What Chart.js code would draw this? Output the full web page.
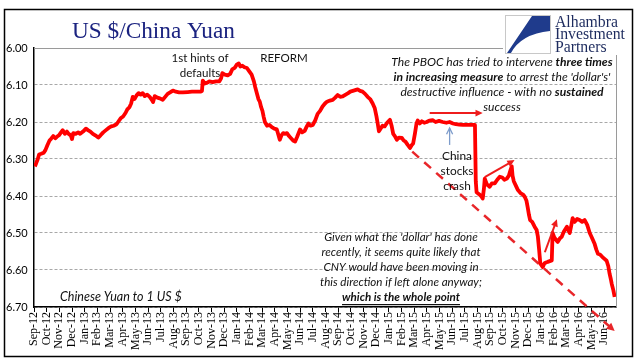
<!DOCTYPE html>
<html>
<head>
<meta charset="utf-8">
<script src="https://cdn.jsdelivr.net/npm/chart.js@4.4.0/dist/chart.umd.min.js"></script>
<style>
  html, body { margin: 0; padding: 0; background: #fff; }
</style>
</head>
<body>
<canvas id="myChart" width="641" height="361"></canvas>
<script>
var ctx = document.getElementById('myChart').getContext('2d');
//-----------------------------------------------
// data
//-----------------------------------------------
const monthLabels = [
  'Sep-12','Oct-12','Nov-12','Dec-12',
  'Jan-13','Feb-13','Mar-13','Apr-13','May-13','Jun-13','Jul-13','Aug-13','Sep-13','Oct-13','Nov-13','Dec-13',
  'Jan-14','Feb-14','Mar-14','Apr-14','May-14','Jun-14','Jul-14','Aug-14','Sep-14','Oct-14','Nov-14','Dec-14',
  'Jan-15','Feb-15','Mar-15','Apr-15','May-15','Jun-15','Jul-15','Aug-15','Sep-15','Oct-15','Nov-15','Dec-15',
  'Jan-16','Feb-16','Mar-16','Apr-16','May-16','Jun-16'
];
const yTicks = [6.00, 6.10, 6.20, 6.30, 6.40, 6.50, 6.60, 6.70];

const rateDates = [
  '2012-09-03','2012-09-06','2012-09-10','2012-09-13','2012-09-18','2012-09-24','2012-09-28',
  '2012-10-03','2012-10-08','2012-10-12','2012-10-17','2012-10-22','2012-10-26','2012-10-31',
  '2012-11-05','2012-11-09','2012-11-14','2012-11-19','2012-11-23','2012-11-28',
  '2012-12-01','2012-12-04','2012-12-10','2012-12-16','2012-12-21','2012-12-28',
  '2013-01-04','2013-01-09','2013-01-15','2013-01-21','2013-01-27',
  '2013-02-03','2013-02-08','2013-02-14','2013-02-20','2013-02-26',
  '2013-03-04','2013-03-10','2013-03-17','2013-03-22','2013-03-27',
  '2013-04-02','2013-04-08','2013-04-12','2013-04-17','2013-04-21','2013-04-25','2013-04-29',
  '2013-05-04','2013-05-09','2013-05-14','2013-05-19','2013-05-24','2013-05-30',
  '2013-06-05','2013-06-10','2013-06-13','2013-06-17','2013-06-23','2013-06-29',
  '2013-07-06','2013-07-12','2013-07-18','2013-07-24','2013-07-31',
  '2013-08-07','2013-08-15','2013-08-24','2013-09-05','2013-09-15','2013-09-25',
  '2013-10-05','2013-10-09','2013-10-11','2013-10-16','2013-10-21','2013-10-27',
  '2013-11-04','2013-11-12','2013-11-20','2013-11-24','2013-11-27',
  '2013-12-03','2013-12-10','2013-12-16','2013-12-21','2013-12-27',
  '2014-01-01','2014-01-06','2014-01-10','2014-01-15','2014-01-20','2014-01-26','2014-01-31',
  '2014-02-06','2014-02-11','2014-02-14','2014-02-18','2014-02-21','2014-02-24','2014-02-27',
  '2014-03-02','2014-03-05','2014-03-08','2014-03-13','2014-03-19','2014-03-25','2014-03-31',
  '2014-04-06','2014-04-10','2014-04-13','2014-04-17','2014-04-21','2014-04-26','2014-04-30',
  '2014-05-05','2014-05-10','2014-05-15','2014-05-20','2014-05-25',
  '2014-06-01','2014-06-06','2014-06-12','2014-06-17','2014-06-21','2014-06-26',
  '2014-07-01','2014-07-07','2014-07-13','2014-07-19','2014-07-25','2014-07-31',
  '2014-08-05','2014-08-12','2014-08-19','2014-08-25','2014-08-31',
  '2014-09-06','2014-09-12','2014-09-19','2014-09-25','2014-09-30',
  '2014-10-06','2014-10-12','2014-10-18','2014-10-24','2014-10-30',
  '2014-11-05','2014-11-11','2014-11-17','2014-11-23','2014-11-28',
  '2014-12-02','2014-12-05','2014-12-08','2014-12-12','2014-12-17','2014-12-22','2014-12-28',
  '2015-01-04','2015-01-08','2015-01-12','2015-01-16','2015-01-21','2015-01-26',
  '2015-02-02','2015-02-06','2015-02-10','2015-02-15','2015-02-20','2015-02-24','2015-02-27',
  '2015-03-03','2015-03-07','2015-03-10','2015-03-15','2015-03-20','2015-03-26',
  '2015-04-01','2015-04-07','2015-04-15','2015-04-22','2015-04-30',
  '2015-05-09','2015-05-18','2015-05-26','2015-06-03','2015-06-10','2015-06-18','2015-06-27',
  '2015-07-06','2015-07-15','2015-07-26','2015-07-28','2015-07-30',
  '2015-08-05','2015-08-10','2015-08-14','2015-08-17','2015-08-19','2015-08-24','2015-08-31',
  '2015-09-05','2015-09-12','2015-09-18','2015-09-24','2015-09-30',
  '2015-10-05','2015-10-11','2015-10-16','2015-10-20','2015-10-23','2015-10-25','2015-10-28',
  '2015-11-02','2015-11-07','2015-11-13','2015-11-19','2015-11-23','2015-11-27','2015-11-30',
  '2015-12-03','2015-12-06','2015-12-11','2015-12-17','2015-12-22','2015-12-25','2015-12-28','2015-12-31',
  '2016-01-06','2016-01-10','2016-01-14','2016-01-18','2016-01-23','2016-01-28','2016-01-30',
  '2016-02-03','2016-02-08','2016-02-11','2016-02-16','2016-02-20','2016-02-25',
  '2016-03-03','2016-03-07','2016-03-10','2016-03-14','2016-03-17','2016-03-22','2016-03-28',
  '2016-04-03','2016-04-09','2016-04-15','2016-04-21','2016-04-27',
  '2016-05-02','2016-05-09','2016-05-13','2016-05-17','2016-05-22','2016-05-28',
  '2016-06-02','2016-06-07','2016-06-11','2016-06-14','2016-06-17','2016-06-19','2016-06-23','2016-06-26'
];
const rateValues = [
  6.320,6.312,6.300,6.288,6.286,6.283,6.276,
  6.262,6.250,6.245,6.238,6.244,6.240,6.236,
  6.228,6.222,6.232,6.226,6.232,6.236,
  6.246,6.230,6.232,6.228,6.232,6.226,
  6.218,6.222,6.226,6.232,6.236,
  6.242,6.236,6.228,6.222,6.216,
  6.212,6.210,6.206,6.198,6.190,
  6.185,6.175,6.166,6.160,6.150,6.132,6.138,
  6.128,6.122,6.126,6.122,6.130,6.126,
  6.132,6.140,6.146,6.130,6.134,6.136,
  6.140,6.132,6.124,6.120,6.115,
  6.118,6.120,6.120,6.119,6.118,6.118,
  6.118,6.116,6.088,6.096,6.094,6.090,
  6.092,6.090,6.090,6.082,6.068,
  6.072,6.074,6.070,6.058,6.054,
  6.045,6.042,6.050,6.048,6.052,6.054,6.062,
  6.072,6.090,6.106,6.124,6.138,6.145,6.160,
  6.170,6.186,6.200,6.210,6.208,6.214,6.218,
  6.220,6.236,6.248,6.236,6.230,6.232,6.230,
  6.238,6.244,6.250,6.253,6.240,
  6.220,6.228,6.224,6.212,6.204,6.210,
  6.208,6.196,6.178,6.170,6.158,6.150,
  6.145,6.142,6.140,6.134,6.127,
  6.132,6.131,6.126,6.122,6.118,
  6.116,6.114,6.112,6.116,6.118,
  6.124,6.132,6.138,6.150,6.163,
  6.185,6.204,6.225,6.218,6.210,6.212,6.202,
  6.194,6.210,6.232,6.238,6.248,6.242,
  6.243,6.250,6.253,6.262,6.270,6.262,6.258,
  6.232,6.204,6.196,6.204,6.198,6.202,
  6.200,6.196,6.195,6.200,6.197,
  6.200,6.202,6.200,6.204,6.206,6.207,6.208,
  6.208,6.208,6.208,6.360,6.390,
  6.395,6.400,6.407,6.380,6.353,6.368,6.375,
  6.366,6.366,6.356,6.348,6.350,
  6.356,6.353,6.345,6.330,6.320,6.345,6.360,
  6.372,6.384,6.392,6.396,6.402,6.412,6.430,
  6.450,6.465,6.470,6.483,6.492,6.510,6.545,6.583,
  6.592,6.582,6.580,6.578,6.576,6.574,6.500,
  6.512,6.520,6.524,6.514,6.510,6.496,
  6.483,6.494,6.500,6.478,6.460,6.470,6.462,
  6.465,6.470,6.465,6.478,6.500,
  6.512,6.530,6.545,6.556,6.558,6.565,
  6.570,6.575,6.590,6.610,6.625,6.637,6.655,6.673
];

// dashed "where it would have gone" line
const trendDates = ['2015-02-25', '2016-06-19'];
const trendValues = [6.28, 6.758];

// little arrows drawn on the plot, in date / value terms
const arrows = [
  { from: ['2015-04-08', 6.176], to: ['2015-08-14', 6.176], color: '#ee1c1c', width: 2 },
  { from: ['2015-08-19', 6.349], to: ['2015-10-30', 6.303], color: '#ee1c1c', width: 2 },
  { from: ['2016-01-11', 6.552], to: ['2016-02-09', 6.463], color: '#ee1c1c', width: 2 },
  { from: ['2015-05-26', 6.262], to: ['2015-05-26', 6.216], color: '#7d9ccb', width: 1.3, open: true }
];

//-----------------------------------------------
function monthPos(s) {
  var p = s.split('-');
  var y = +p[0], m = +p[1], d = +p[2];
  var dim = new Date(y, m, 0).getDate();
  return (y - 2012) * 12 + (m - 9) + (d - 1) / dim;
}

function drawArrow(c, x1, y1, x2, y2, color, w, head, open) {
  var ang = Math.atan2(y2 - y1, x2 - x1);
  c.save();
  c.strokeStyle = color; c.fillStyle = color; c.lineWidth = w;
  c.beginPath();
  c.moveTo(x1, y1);
  if (open) c.lineTo(x2, y2);
  else c.lineTo(x2 - Math.cos(ang) * head * 0.7, y2 - Math.sin(ang) * head * 0.7);
  c.stroke();
  c.beginPath();
  c.moveTo(x2 - head * Math.cos(ang - 0.45), y2 - head * Math.sin(ang - 0.45));
  c.lineTo(x2, y2);
  c.lineTo(x2 - head * Math.cos(ang + 0.45), y2 - head * Math.sin(ang + 0.45));
  if (open) { c.stroke(); } else { c.closePath(); c.fill(); }
  c.restore();
}

// one centred line made of plain / bold pieces
function richLine(c, parts, cx, y, size, italic, family) {
  var st = italic ? 'italic ' : '';
  var total = 0;
  parts.forEach(function(p) {
    c.font = st + (p[1] ? 'bold ' : '') + size + 'px ' + family;
    total += c.measureText(p[0]).width;
  });
  var x = cx - total / 2;
  parts.forEach(function(p) {
    c.font = st + (p[1] ? 'bold ' : '') + size + 'px ' + family;
    c.fillText(p[0], x, y);
    x += c.measureText(p[0]).width;
  });
  return total;
}

// font size that makes a line as wide as in the picture
function fitSize(c, parts, width, italic, family) {
  var w = 0, st = italic ? 'italic ' : '';
  parts.forEach(function(p) {
    c.font = st + (p[1] ? 'bold ' : '') + '20px ' + family;
    w += c.measureText(p[0]).width;
  });
  return 20 * width / w;
}

const SANS = 'Lato';

const frame = {
  id: 'frame',
  beforeDatasetsDraw(chart) {
    var c = chart.ctx, a = chart.chartArea;
    c.save();
    c.strokeStyle = '#9a9a9a'; c.lineWidth = 1;
    c.beginPath();
    c.moveTo(a.left, a.top + 0.5); c.lineTo(a.right + 0.5, a.top + 0.5); c.lineTo(a.right + 0.5, a.bottom);
    c.stroke();
    c.restore();
  },
  afterDraw(chart) {
    var c = chart.ctx, xs = chart.scales.x, ys = chart.scales.y;
    c.save();

    // arrow head on the dashed line
    var tx0 = xs.getPixelForValue(monthPos(trendDates[0])), ty0 = ys.getPixelForValue(trendValues[0]);
    var tx1 = xs.getPixelForValue(monthPos(trendDates[1])), ty1 = ys.getPixelForValue(trendValues[1]);
    var ang = Math.atan2(ty1 - ty0, tx1 - tx0);
    drawArrow(c, tx1 - Math.cos(ang) * 4, ty1 - Math.sin(ang) * 4, tx1 + Math.cos(ang) * 4, ty1 + Math.sin(ang) * 4, '#e8262a', 2.5, 9);

    arrows.forEach(function(ar) {
      drawArrow(c,
        xs.getPixelForValue(monthPos(ar.from[0])), ys.getPixelForValue(ar.from[1]),
        xs.getPixelForValue(monthPos(ar.to[0])), ys.getPixelForValue(ar.to[1]),
        ar.color, ar.width, ar.open ? 7 : 8, ar.open);
    });

    c.fillStyle = '#111';
    c.textBaseline = 'middle';

    // notes
    var s;
    s = fitSize(c, [['1st hints of', 0]], 57, false, SANS);
    richLine(c, [['1st hints of', 0]], 200, 58, s, false, SANS);
    richLine(c, [['defaults', 0]], 200, 73, s, false, SANS);
    richLine(c, [['REFORM', 0]], 284, 58, s, false, SANS);

    s = fitSize(c, [['stocks', 0]], 33, false, SANS);
    richLine(c, [['China', 0]], 457, 156, s, false, SANS);
    richLine(c, [['stocks', 0]], 457, 171, s, false, SANS);
    richLine(c, [['crash', 0]], 457, 186, s, false, SANS);

    var pb = [
      [['The PBOC has tried to intervene ', 0], ['three times', 1]],
      [['in increasing measure', 1], [' to arrest the \'dollar\'s\'', 0]],
      [['destructive influence - with no ', 0], ['sustained', 1]],
      [['success', 0]]
    ];
    s = fitSize(c, pb[1], 217, true, SANS);
    pb.forEach(function(l, i) { richLine(c, l, 502, 62 + i * 15, s, true, SANS); });

    var gv = [
      [['Given what the \'dollar\' has done', 0]],
      [['recently, it seems quite likely that', 0]],
      [['CNY would have been moving in', 0]],
      [['this direction if left alone anyway;', 0]],
      [['which is the whole point', 1]]
    ];
    s = fitSize(c, gv[3], 162, true, SANS);
    gv.forEach(function(l, i) {
      var w = richLine(c, l, 401, 237 + i * 15, s, true, SANS);
      if (i === 4) {
        c.fillRect(401 - w / 2, 237 + i * 15 + 7, w, 1.2);
      }
    });

    s = fitSize(c, [['Chinese Yuan to 1 US $', 0]], 122, true, SANS);
    c.textAlign = 'left';
    c.font = 'italic ' + s + 'px ' + SANS;
    c.fillText('Chinese Yuan to 1 US $', 60, 297);

    // title
    c.fillStyle = '#1b2380';
    s = fitSize(c, [['US $/China Yuan', 0]], 163, false, 'Liberation Serif');
    c.font = s + 'px Liberation Serif';
    c.textBaseline = 'alphabetic';
    c.fillText('US $/China Yuan', 72, 38);

    // logo
    c.fillStyle = '#fff';
    c.fillRect(503, 13, 127, 42);
    c.strokeStyle = '#c8c8c8'; c.lineWidth = 1;
    c.strokeRect(505.5, 15.5, 45, 38);
    c.fillStyle = '#1f3b8c';
    c.beginPath();
    c.moveTo(532, 16); c.lineTo(550, 16); c.lineTo(550, 31);
    c.quadraticCurveTo(521, 34, 511, 53);
    c.lineTo(507, 53);
    c.closePath();
    c.fill();
    c.fillStyle = '#1d2b5e';
    s = fitSize(c, [['Investment', 0]], 70, false, 'Liberation Serif');
    c.font = s + 'px Liberation Serif';
    c.textBaseline = 'middle';
    c.fillText('Alhambra', 555, 23);
    c.fillText('Investment', 555, 35);
    c.fillText('Partners', 555, 48);

    // outer frame
    c.strokeStyle = '#000'; c.lineWidth = 1.5;
    c.strokeRect(4.5, 9.5, 628, 347);
    c.restore();
  }
};

var myChart = new Chart(ctx, {
  type: 'line',
  data: {
    datasets: [{
      label: 'Chinese Yuan to 1 US $',
      data: rateDates.map(function(d, i) { return { x: monthPos(d), y: rateValues[i] }; }),
      borderColor: '#ff0000',
      borderWidth: 3.8,
      borderJoinStyle: 'round',
      pointRadius: 0,
      tension: 0,
      order: 1
    }, {
      label: 'trend',
      data: trendDates.map(function(d, i) { return { x: monthPos(d), y: trendValues[i] }; }),
      borderColor: '#e8262a',
      borderWidth: 2.5,
      borderDash: [9, 7],
      pointRadius: 0,
      clip: false,
      order: 2
    }]
  },
  options: {
    responsive: false,
    animation: false,
    events: [],
    layout: { padding: { left: 6, top: 48, right: 25, bottom: 6 } },
    plugins: { legend: { display: false }, tooltip: { enabled: false } },
    scales: {
      x: {
        type: 'linear',
        min: 0,
        max: 45.94,
        afterFit: function(s) { s.height = 48; },
        afterBuildTicks: function(s) { s.ticks = monthLabels.map(function(l, i) { return { value: i }; }); },
        grid: { drawOnChartArea: false, drawTicks: true, tickLength: 5, color: '#000' },
        border: { color: '#000', width: 1.5 },
        ticks: {
          autoSkip: false,
          maxRotation: 90,
          minRotation: 90,
          padding: 0,
          color: '#000',
          font: { family: 'Liberation Serif', size: 12 },
          callback: function(v) { return monthLabels[Math.round(v)]; }
        }
      },
      y: {
        reverse: true,
        min: 6.0,
        max: 6.7,
        afterFit: function(s) { s.width = 28; },
        afterBuildTicks: function(s) { s.ticks = yTicks.map(function(v) { return { value: v }; }); },
        grid: { color: '#a8a8a8', lineWidth: 1, drawTicks: false },
        border: { color: '#000', width: 1.5, dash: [3, 2] },
        ticks: {
          crossAlign: 'far',
          padding: 0,
          color: '#000',
          font: { family: SANS, size: 11 },
          callback: function(v) { return v.toFixed(2); }
        }
      }
    }
  },
  plugins: [frame]
});
</script>
</body>
</html>
